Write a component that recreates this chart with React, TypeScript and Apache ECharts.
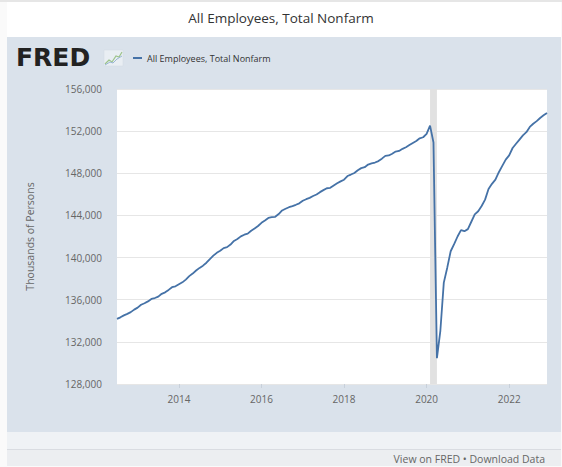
import React, { useEffect, useRef } from "react";
import * as echarts from "echarts";

const TITLE = "All Employees, Total Nonfarm";
const SERIES_NAME = "All Employees, Total Nonfarm";
const Y_NAME = "Thousands of Persons";
const START_YEAR = 2012;
const START_MONTH = 7;

// Monthly values (thousands of persons), Jul 2012 .. Dec 2022
const v2012 = [134180, 134330, 134510, 134660, 134820, 135060];
const v2013 = [135250, 135520, 135660, 135840, 136070, 136160, 136290, 136560, 136700, 136930, 137190, 137270];
const v2014 = [137460, 137650, 137910, 138240, 138480, 138770, 139020, 139230, 139510, 139860, 140180, 140450];
const v2015 = [140640, 140900, 140990, 141240, 141580, 141760, 142010, 142170, 142270, 142550, 142760, 143000];
const v2016 = [143300, 143520, 143760, 143830, 143870, 144130, 144470, 144630, 144780, 144890, 145010, 145150];
const v2017 = [145390, 145540, 145670, 145840, 145990, 146210, 146400, 146580, 146620, 146840, 147050, 147230];
const v2018 = [147390, 147740, 147880, 148030, 148290, 148490, 148580, 148830, 148940, 149020, 149160, 149390];
const v2019 = [149650, 149690, 149860, 150060, 150120, 150320, 150470, 150680, 150880, 151070, 151320, 151420];
const v2020 = [151740, 152520, 150920, 130450, 133050, 137620, 139040, 140600, 141270, 142000, 142600, 142500];
const v2021 = [142700, 143400, 144100, 144400, 144900, 145500, 146500, 147000, 147400, 148100, 148700, 149300];
const v2022 = [149700, 150400, 150800, 151200, 151600, 151900, 152400, 152700, 152950, 153250, 153500, 153720];

const values = [...v2012, ...v2013, ...v2014, ...v2015, ...v2016, ...v2017, ...v2018, ...v2019, ...v2020, ...v2021, ...v2022];

const categories: string[] = values.map((_, i) => {
  const m0 = START_MONTH - 1 + i;
  const y = START_YEAR + Math.floor(m0 / 12);
  const m = (m0 % 12) + 1;
  return `${y}-${m < 10 ? "0" + m : m}`;
});

const recession = ["2020-02", "2020-04"];
const tickYears = ["2014", "2016", "2018", "2020", "2022"];
const Y_MIN = 128000;
const Y_MAX = 156000;
const Y_STEP = 4000;

const FONT = "'Open Sans', 'DejaVu Sans', sans-serif";

function isTick(val: string) {
  return val.endsWith("-01") && tickYears.includes(val.slice(0, 4));
}

export default function App() {
  const ref = useRef<HTMLDivElement>(null);
  useEffect(() => {
    if (!ref.current) return;
    const chart = echarts.init(ref.current, null, { renderer: "svg" });
    chart.setOption({
      animation: false,
      backgroundColor: "transparent",
      textStyle: { fontFamily: FONT },
      grid: {
        left: 117,
        right: 15,
        top: 89,
        bottom: 83,
        show: true,
        backgroundColor: "#ffffff",
        borderWidth: 0,
      },
      xAxis: {
        type: "category",
        data: categories,
        boundaryGap: false,
        axisLine: { show: false },
        axisTick: {
          show: true,
          interval: (idx: number, val: string) => isTick(val),
          length: 4,
          lineStyle: { color: "#c8d0da" },
        },
        axisLabel: {
          interval: (idx: number, val: string) => isTick(val),
          formatter: (val: string) => val.slice(0, 4),
          color: "#666",
          fontSize: 10,
          margin: 10,
          fontFamily: FONT,
        },
        splitLine: { show: false },
      },
      yAxis: {
        type: "value",
        min: Y_MIN,
        max: Y_MAX,
        interval: Y_STEP,
        name: Y_NAME,
        nameLocation: "middle",
        nameGap: 82,
        nameTextStyle: { color: "#666", fontSize: 10.5, fontFamily: FONT },
        axisLine: { show: false },
        axisTick: { show: false },
        axisLabel: {
          color: "#666",
          fontSize: 10,
          margin: 15,
          fontFamily: FONT,
          formatter: (v: number) => v.toLocaleString("en-US"),
        },
        splitLine: { show: true, lineStyle: { color: "#e6e6e6", width: 1 } },
      },
      series: [
        {
          type: "line",
          name: SERIES_NAME,
          data: values,
          showSymbol: false,
          lineStyle: { color: "#4572a7", width: 1.8 },
          itemStyle: { color: "#4572a7" },
          markArea: {
            silent: true,
            itemStyle: { color: "#e1e1e1" },
            data: [[{ xAxis: recession[0] }, { xAxis: recession[1] }]],
          },
        },
      ],
      graphic: [
        {
          type: "text",
          left: "center",
          top: 11,
          style: { text: TITLE, fontSize: 13.5, fill: "#333", fontFamily: FONT },
        },
        {
          type: "text",
          x: 16,
          y: 45,
          style: { text: "FRED", fontSize: 25, fontWeight: "bold", fill: "#222", fontFamily: "'DejaVu Sans', sans-serif" },
        },
        {
          type: "rect",
          shape: { x: 104, y: 50, width: 19, height: 16 },
          style: { fill: "#e9eef3", stroke: "#d3dbe3", lineWidth: 0.5 },
        },
        {
          type: "polyline",
          shape: { points: [[105, 64], [109, 60], [112, 62], [116, 56], [119, 57], [122, 52]] },
          style: { stroke: "#9cc38a", fill: "none", lineWidth: 1.2 },
        },
        {
          type: "polyline",
          shape: { points: [[105, 65], [110, 62], [113, 63], [117, 59], [122, 56]] },
          style: { stroke: "#9ab6d4", fill: "none", lineWidth: 1 },
        },
        {
          type: "line",
          shape: { x1: 133, y1: 58, x2: 142, y2: 58 },
          style: { stroke: "#4572a7", lineWidth: 2 },
        },
        {
          type: "text",
          x: 147,
          y: 58,
          style: { text: SERIES_NAME, fontSize: 9, fill: "#333", fontFamily: FONT, verticalAlign: "middle" },
        },
        {
          type: "text",
          x: 545,
          y: 459,
          style: { text: "View on FRED \u2022 Download Data", fontSize: 10.5, fill: "#666", fontFamily: FONT, align: "right", verticalAlign: "middle" },
        },
      ],
    });
    return () => chart.dispose();
  }, []);

  const band = (top: number, height: number, bg: string, extra: React.CSSProperties = {}) => (
    <div style={{ position: "absolute", left: 7, right: 1, top, height, background: bg, ...extra }} />
  );

  return (
    <div style={{ position: "fixed", left: 0, top: 0, width: 562, height: 467, background: "#fafafa", overflow: "hidden" }}>
      <div style={{ position: "absolute", left: 0, right: 0, top: 0, height: 2, background: "#e6e6e6" }} />
      {band(2, 35, "#ffffff")}
      {band(37, 395, "#dae2eb")}
      {band(432, 17, "#eff2f5")}
      {band(449, 1, "#d9dce1")}
      {band(450, 16, "#eceef1")}
      <div ref={ref} style={{ position: "absolute", left: 0, top: 0, width: 562, height: 467 }} />
    </div>
  );
}
